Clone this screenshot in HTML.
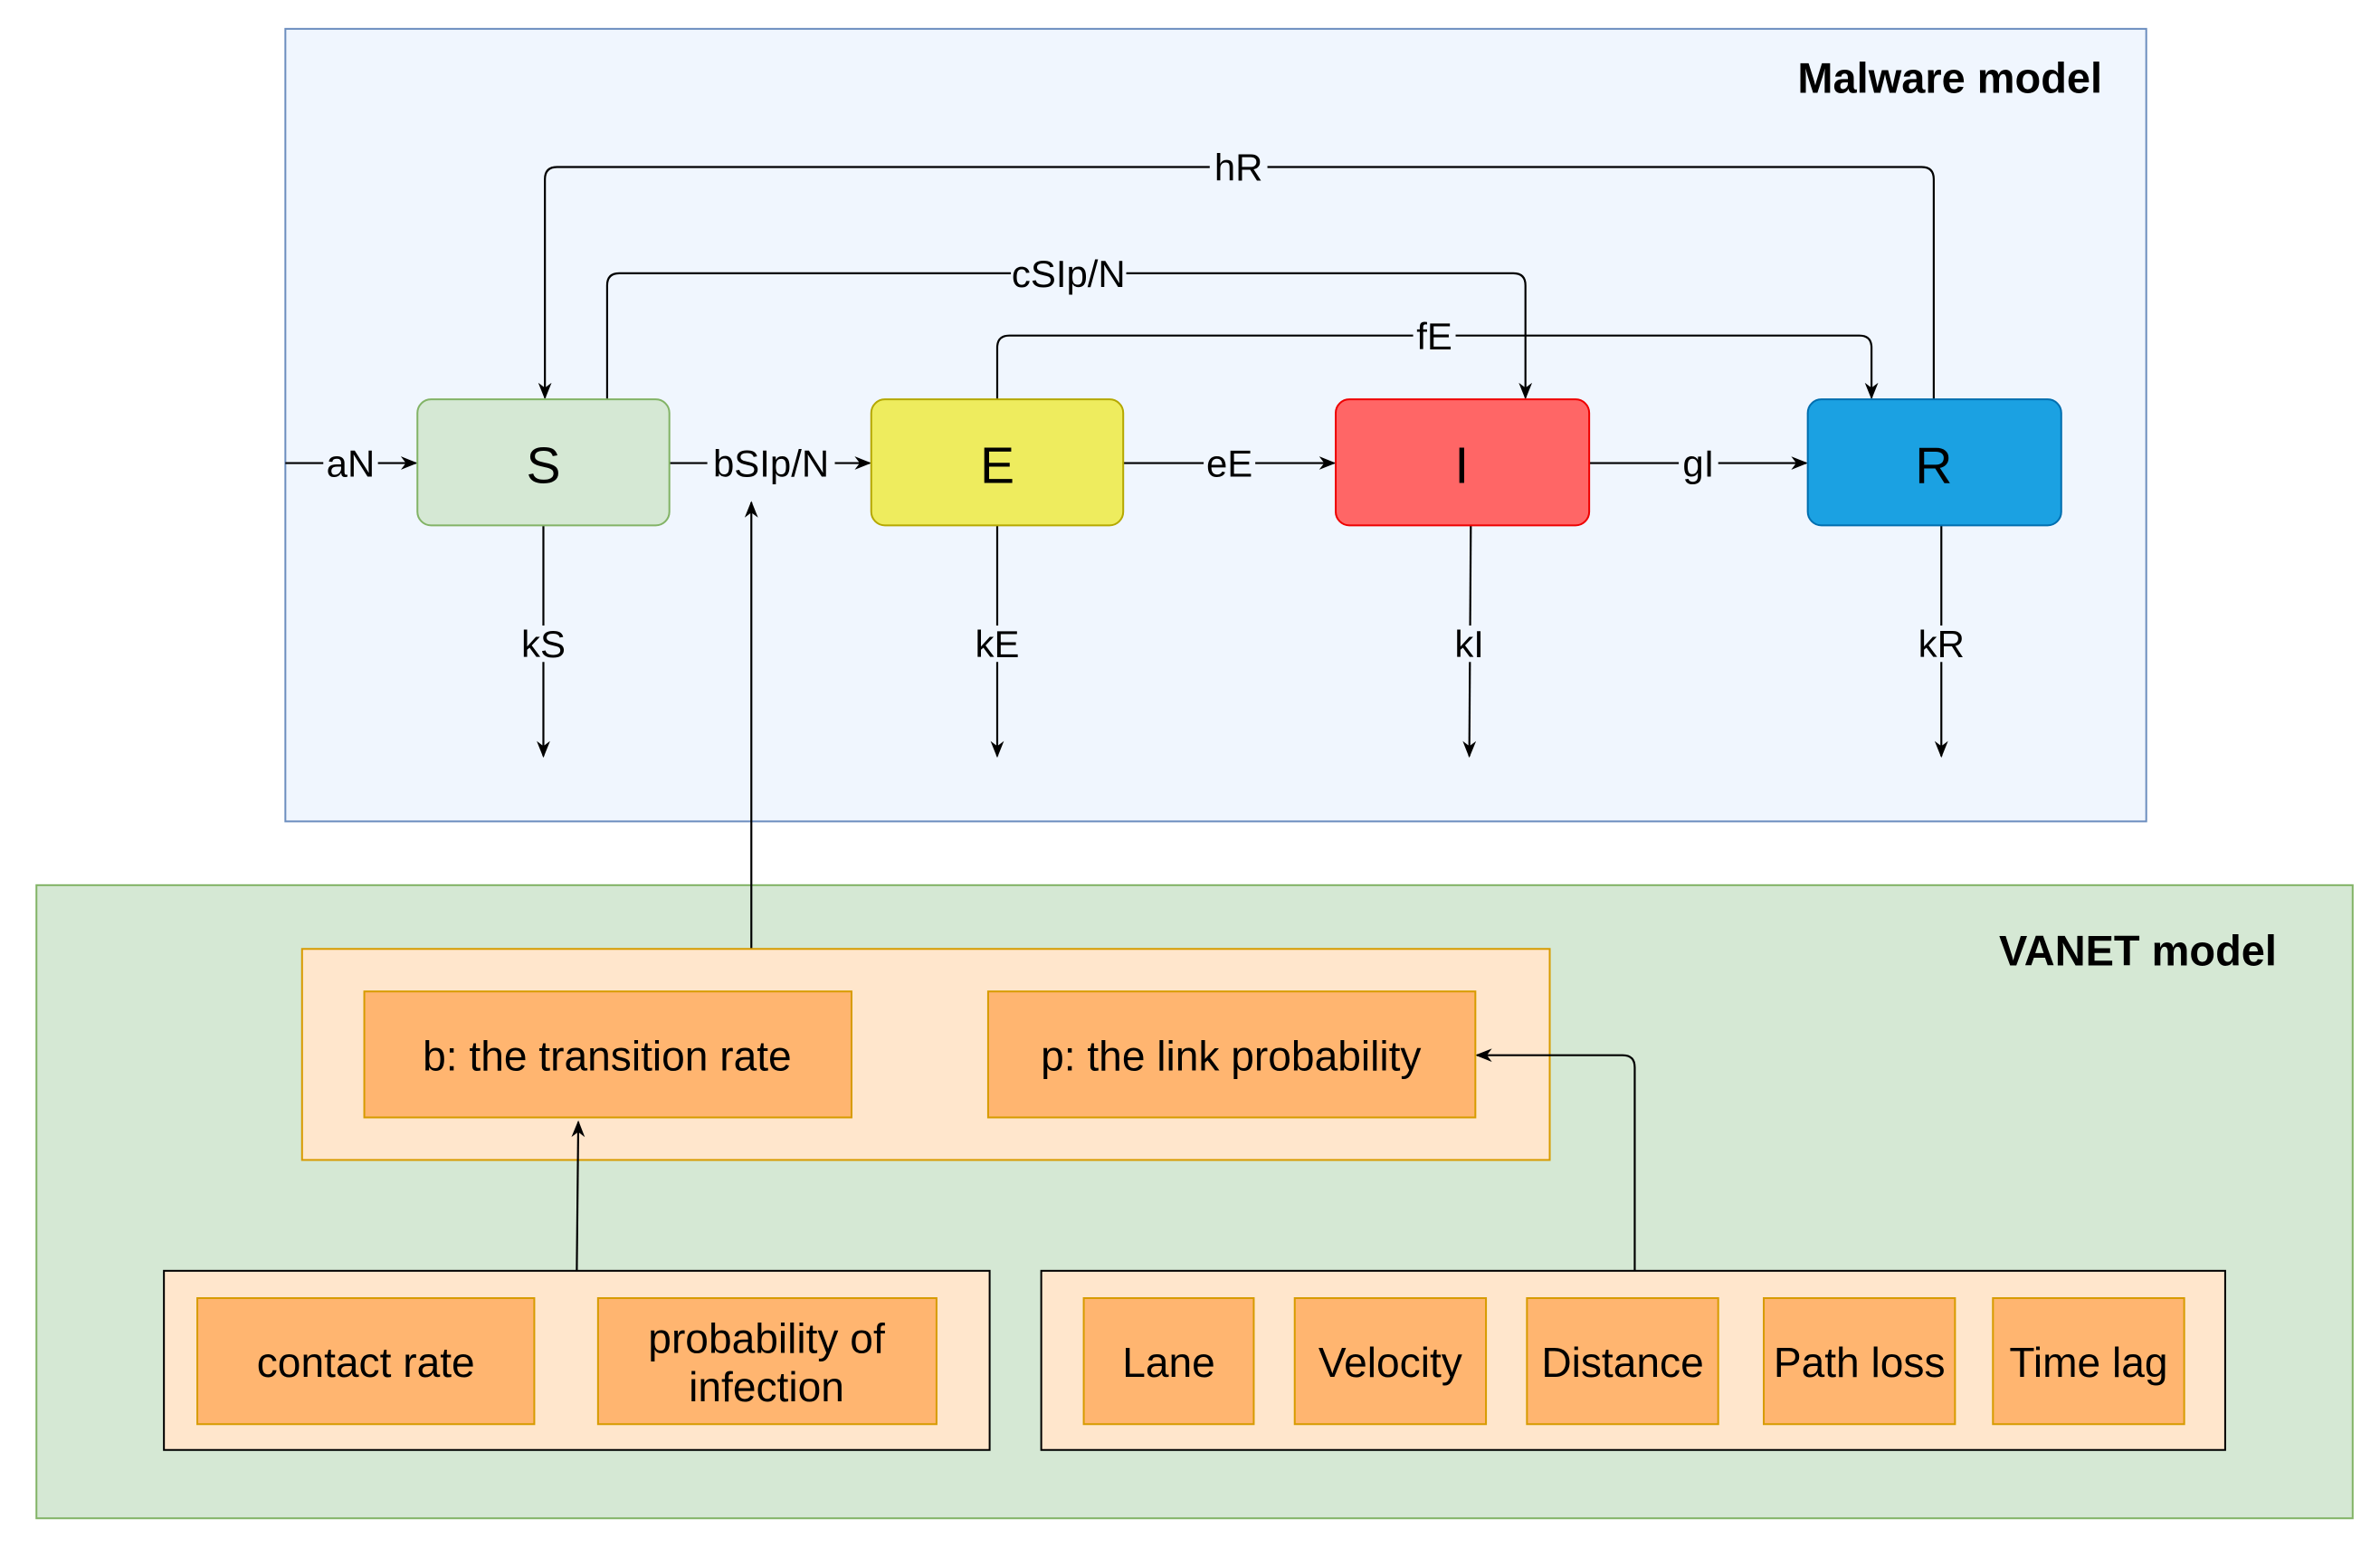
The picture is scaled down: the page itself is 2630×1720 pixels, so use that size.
<!DOCTYPE html>
<html><head><meta charset="utf-8"><style>html,body{margin:0;padding:0;background:#fff}svg{display:block}</style></head>
<body>
<svg width="2630" height="1720" viewBox="0 0 1568 1025.5" preserveAspectRatio="none" xmlns="http://www.w3.org/2000/svg" font-family="Liberation Sans, Arial, sans-serif">
<defs><marker id="a" viewBox="0 0 10 10" refX="9" refY="5" markerWidth="11" markerHeight="11" orient="auto-start-reverse" markerUnits="userSpaceOnUse"><path d="M0,1 L10,5 L0,9 L3,5 z" fill="#000"/></marker></defs>
<rect x="188" y="19" width="1226" height="522" fill="#f0f6fe" stroke="#6c8ebf" stroke-width="1.2"/>
<text x="1385" y="61" text-anchor="end" font-size="28" font-weight="bold">Malware model</text>
<rect x="24" y="583" width="1526" height="417" fill="#d5e8d4" stroke="#82b366" stroke-width="1.2"/>
<text x="1500" y="636" text-anchor="end" font-size="28" font-weight="bold">VANET model</text>
<g fill="none" stroke="#000" stroke-width="1.3">
<path d="M1274,263 V118 Q1274,110 1266,110 H367 Q359,110 359,118 V262" marker-end="url(#a)"/>
<path d="M400,263 V188 Q400,180 408,180 H997 Q1005,180 1005,188 V262" marker-end="url(#a)"/>
<path d="M657,263 V229 Q657,221 665,221 H1225 Q1233,221 1233,229 V262" marker-end="url(#a)"/>
<path d="M188,305 H274" marker-end="url(#a)"/>
<path d="M441,305 H573" marker-end="url(#a)"/>
<path d="M740,305 H879" marker-end="url(#a)"/>
<path d="M1047,305 H1190" marker-end="url(#a)"/>
<path d="M358,346 V498" marker-end="url(#a)"/>
<path d="M657,346 V498" marker-end="url(#a)"/>
<path d="M969,346 L968,498" marker-end="url(#a)"/>
<path d="M1279,346 V498" marker-end="url(#a)"/>
<path d="M495,625 V331" marker-end="url(#a)"/>
</g>
<rect x="275" y="263" width="166" height="83" rx="9" fill="#d5e8d4" stroke="#82b366" stroke-width="1.2"/>
<rect x="574" y="263" width="166" height="83" rx="9" fill="#eeec5e" stroke="#b5a800" stroke-width="1.2"/>
<rect x="880" y="263" width="167" height="83" rx="9" fill="#ff6666" stroke="#ee0000" stroke-width="1.2"/>
<rect x="1191" y="263" width="167" height="83" rx="9" fill="#1ba1e2" stroke="#006eaf" stroke-width="1.2"/>
<g font-size="34" text-anchor="middle"><text x="358" y="318">S</text><text x="657" y="318">E</text><text x="963" y="318">I</text><text x="1274" y="318">R</text></g>
<g font-size="25" text-anchor="middle">
<rect x="797" y="98" width="38" height="24" fill="#f0f6fe"/><text x="816" y="119">hR</text>
<rect x="666" y="168" width="76" height="24" fill="#f0f6fe"/><text x="704" y="189">cSIp/N</text>
<rect x="931" y="209" width="28" height="24" fill="#f0f6fe"/><text x="945" y="230">fE</text>
<rect x="213" y="293" width="36" height="24" fill="#f0f6fe"/><text x="231" y="314">aN</text>
<rect x="466" y="293" width="84" height="24" fill="#f0f6fe"/><text x="508" y="314">bSIp/N</text>
<rect x="793" y="293" width="34" height="24" fill="#f0f6fe"/><text x="810" y="314">eE</text>
<rect x="1106" y="293" width="26" height="24" fill="#f0f6fe"/><text x="1119" y="314">gI</text>
<rect x="341" y="412" width="34" height="24" fill="#f0f6fe"/><text x="358" y="433">kS</text>
<rect x="640" y="412" width="34" height="24" fill="#f0f6fe"/><text x="657" y="433">kE</text>
<rect x="956" y="412" width="24" height="24" fill="#f0f6fe"/><text x="968" y="433">kI</text>
<rect x="1262" y="412" width="34" height="24" fill="#f0f6fe"/><text x="1279" y="433">kR</text>
</g>
<rect x="199" y="625" width="822" height="139" fill="#ffe6cc" stroke="#d79b00" stroke-width="1.2"/>
<rect x="108" y="837" width="544" height="118" fill="#ffe6cc" stroke="#000" stroke-width="1.2"/>
<rect x="686" y="837" width="780" height="118" fill="#ffe6cc" stroke="#000" stroke-width="1.2"/>
<g fill="none" stroke="#000" stroke-width="1.3">
<path d="M380,837 L381,739" marker-end="url(#a)"/>
<path d="M1077,837 V703 Q1077,695 1069,695 H973" marker-end="url(#a)"/>
</g>
<g fill="#ffb570" stroke="#d79b00" stroke-width="1.2">
<rect x="240" y="653" width="321" height="83"/><rect x="651" y="653" width="321" height="83"/>
<rect x="130" y="855" width="222" height="83"/><rect x="394" y="855" width="223" height="83"/>
<rect x="714" y="855" width="112" height="83"/><rect x="853" y="855" width="126" height="83"/>
<rect x="1006" y="855" width="126" height="83"/><rect x="1162" y="855" width="126" height="83"/>
<rect x="1313" y="855" width="126" height="83"/>
</g>
<g font-size="27.5" text-anchor="middle">
<text x="400" y="705">b: the transition rate</text><text x="811" y="705">p: the link probability</text>
<text x="241" y="907">contact rate</text>
<text x="505" y="891">probability of</text><text x="505" y="923">infection</text>
<text x="770" y="907">Lane</text><text x="916" y="907">Velocity</text><text x="1069" y="907">Distance</text>
<text x="1225" y="907">Path loss</text><text x="1376" y="907">Time lag</text>
</g>
</svg>
</body></html>
